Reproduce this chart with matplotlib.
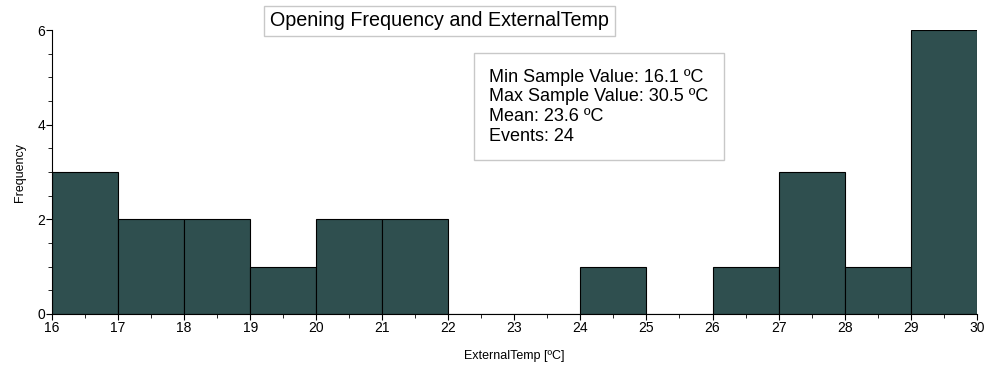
import matplotlib.pyplot as plt
import numpy as np
from matplotlib.ticker import MultipleLocator

plt.rcParams['font.family'] = ['Liberation Sans', 'DejaVu Sans']

bin_edges = list(range(16, 31))
counts = [3, 2, 2, 1, 2, 2, 0, 0, 1, 0, 1, 3, 1, 6]
stats_lines = ["Min Sample Value: 16.1 ºC",
               "Max Sample Value: 30.5 ºC",
               "Mean: 23.6 ºC",
               "Events: 24"]
title = "Opening Frequency and ExternalTemp"

fig = plt.figure(figsize=(9.88, 3.68), dpi=100)
ax = fig.add_axes([0.0526, 0.147, 0.936, 0.771])

left = np.array(bin_edges[:-1])
ax.bar(left, counts, width=1, align='edge', color='#2f4f4f',
       edgecolor='black', linewidth=0.8)

ax.set_xlim(16, 30)
ax.set_ylim(0, 6)
ax.xaxis.set_major_locator(MultipleLocator(1))
ax.xaxis.set_minor_locator(MultipleLocator(0.5))
ax.yaxis.set_major_locator(MultipleLocator(2))
ax.yaxis.set_minor_locator(MultipleLocator(0.5))
ax.tick_params(which='major', length=4, labelsize=10, pad=1)
ax.tick_params(which='minor', length=3)
for s in ['top', 'right']:
    ax.spines[s].set_visible(False)

ax.set_xlabel("ExternalTemp [ºC]", fontsize=9, labelpad=11)
ax.set_ylabel("Frequency", fontsize=9, labelpad=8)

fig.text(0.445, 0.943, title, fontsize=14.2, ha='center', va='center',
         bbox=dict(boxstyle='square,pad=0.3', fc='white', ec='#c8c8c8'))

fig.text(0.495, 0.71, "\n".join(stats_lines), fontsize=13, ha='left',
         va='center', linespacing=1.2,
         bbox=dict(boxstyle='square,pad=0.85', fc='white', ec='#c8c8c8'))

fig.savefig("out.png", dpi=100)
